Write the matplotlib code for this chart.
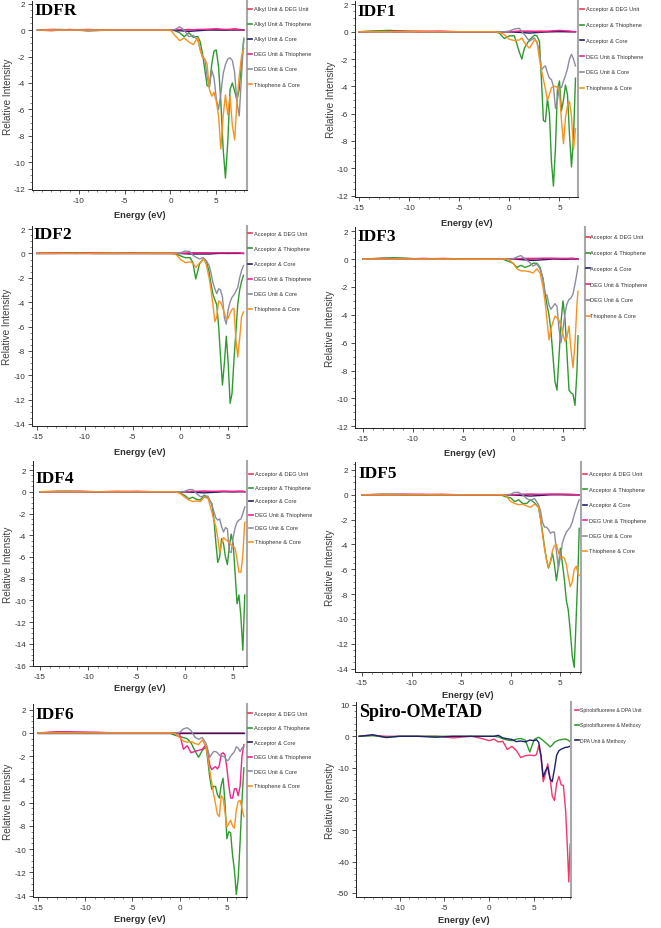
import matplotlib
matplotlib.use("Agg")
import matplotlib.pyplot as plt
from matplotlib.lines import Line2D
from matplotlib.ticker import AutoMinorLocator, MultipleLocator

plt.rcParams["font.family"] = ["Liberation Sans", "DejaVu Sans"]
plt.rcParams["axes.unicode_minus"] = False

W, H = 661, 929

# ── data (energy in eV, relative intensity) ─────────────────────────────
# IDFR
IDFR_E = [-14.5, -12, -9, -6, -3, -1, -0.5, 0, 0.5, 1.0, 1.5, 2.0, 2.5,
          2.75, 3.0, 3.25, 3.5, 3.75, 4.0, 4.25, 4.5, 4.75, 5.0, 5.25, 5.5,
          5.75, 6.0, 6.25, 6.5, 6.75, 7.0, 7.25, 7.5, 7.75, 8.0]
IDFR_GREEN = [0, 0.05, -0.05, 0, 0, 0, 0, 0, -0.05, -0.2, -0.5, -0.2, -0.55,
              -0.5, -0.5, -0.9, -1.8, -3.0, -4.2, -4.3, -2.6, -1.6, -1.5, -2.8, -5.5,
              -9.0, -11.2, -8.5, -4.5, -4.0, -4.6, -5.3, -4.5, -2.5, -0.7]
IDFR_GRAY = [0, 0, 0, 0, 0, 0, 0, 0, 0.05, 0.25, 0.0, -0.5, -0.4,
             -0.6, -0.8, -1.5, -2.0, -2.2, -3.5, -4.3, -3.0, -3.6, -5.2, -6.0, -4.8,
             -3.3, -2.6, -2.2, -2.1, -2.3, -3.2, -5.5, -6.5, -3.5, -0.6]
IDFR_ORANGE = [0, 0, 0, 0, 0, 0, 0, 0, -0.4, -0.8, -0.6, -0.9, -1.1,
               -0.8, -0.6, -1.5, -2.1, -2.2, -2.6, -4.5, -5.0, -4.7, -5.4, -6.5, -9.0,
               -6.5, -4.9, -6.4, -5.0, -7.2, -8.3, -5.5, -3.5, -2.0, -1.4]
IDFR_FE = [-14.5, -13, -11, -9, -7, -5, -3, -1, 0, 1, 2, 3, 4, 5, 6, 7, 8]
IDFR_RED = [0, -0.05, 0.05, -0.05, 0, 0, 0, 0, 0, 0, 0.05, 0, 0.05, 0.05, 0, 0.1, 0]
IDFR_NAVY = [0, 0, 0, 0, 0, 0, 0, 0, 0, -0.05, -0.1, -0.05, 0, 0, 0, 0, 0]
IDFR_MAG = [0, 0.05, 0, 0.05, 0, 0, 0, 0, 0, 0.05, 0, 0.05, 0.05, 0.1, 0.05, 0.05, 0]

# IDF1
IDF1_E = [-15, -12, -9, -6, -3, -1.5, -1, -0.5, 0, 0.5, 1.0, 1.25, 1.5, 2.0, 2.5,
          2.75, 3.0, 3.2, 3.4, 3.6, 3.8, 4.0, 4.2, 4.4, 4.6, 4.8, 5.0, 5.2, 5.4,
          5.6, 5.8, 6.0, 6.2, 6.4, 6.6]
IDF1_GREEN = [0, 0.1, 0, 0, 0, 0, -0.1, -0.5, -0.3, -0.3, -1.5, -2.0, -1.2, -0.6, -0.25,
              -0.3, -0.7, -3.5, -6.5, -6.6, -4.9, -6.0, -9.5, -11.3, -8.5, -4.2, -3.6, -5.8, -5.0,
              -3.9, -4.6, -7.5, -9.9, -7.8, -3.4]
IDF1_GRAY = [0, 0, 0, 0, 0, 0, 0, 0, 0.05, 0.2, 0.25, 0.0, -0.2, -0.7, -0.45,
             -0.8, -1.4, -2.8, -2.6, -2.5, -3.0, -3.4, -3.5, -4.0, -5.6, -5.0, -4.0, -4.1, -3.6,
             -3.2, -2.7, -2.0, -1.65, -2.0, -2.5]
IDF1_ORANGE = [0, 0, 0, 0, 0, 0, -0.05, -0.2, -0.55, -0.65, -0.6, -0.45, -0.8, -1.2, -0.6,
               -0.7, -2.0, -2.8, -3.5, -4.2, -5.0, -4.6, -4.1, -4.0, -4.0, -4.1, -4.4, -6.5, -8.2,
               -6.3, -5.4, -5.1, -6.2, -8.6, -7.1]
IDF1_FE = [-15, -13, -11, -9, -7, -5, -3, -1, 0, 1, 2, 3, 4, 5, 6, 6.6]
IDF1_RED = [0, 0.05, 0, 0.05, 0, 0, 0, 0, 0, 0, 0, 0.05, 0, 0.05, 0, 0]
IDF1_NAVY = [0, 0, 0, 0, 0, 0, 0, 0, 0, -0.05, -0.1, -0.05, 0, 0, 0, 0]
IDF1_MAG = [0, 0, 0.05, 0, 0.05, 0, 0, 0, 0, 0.05, 0.05, 0, 0.05, 0.1, 0.05, 0]

# IDF2
IDF2_E = [-15, -12, -9, -6, -3, -1, -0.5, 0, 0.5, 1.0, 1.3, 1.6, 2.0, 2.4, 2.7,
          3.0, 3.2, 3.4, 3.6, 3.8, 4.0, 4.2, 4.4, 4.6, 4.8, 5.0, 5.2, 5.4, 5.6,
          5.8, 6.0, 6.2, 6.4, 6.6]
IDF2_GREEN = [0, 0.05, 0, 0, 0, 0, -0.05, -0.2, -0.35, -0.35, -0.75, -2.1, -0.85, -0.45, -0.6,
              -1.5, -2.5, -3.35, -3.8, -4.2, -6.0, -8.5, -10.8, -9.0, -6.8, -9.0, -12.3, -11.5, -8.8,
              -6.5, -4.2, -3.0, -2.3, -1.8]
IDF2_GRAY = [0, 0, 0, 0, 0, 0, 0, 0.05, 0.2, 0.15, -0.15, -0.3, -0.45, -0.35, -0.6,
             -1.0, -1.6, -2.4, -2.9, -3.3, -2.9, -3.0, -3.6, -5.3, -5.8, -4.6, -4.0, -3.6, -3.4,
             -3.1, -2.8, -2.0, -1.4, -1.0]
IDF2_ORANGE = [0, 0, 0, 0, 0, 0, -0.05, -0.5, -0.75, -0.7, -0.8, -1.15, -0.8, -0.45, -0.9,
               -2.0, -3.0, -4.2, -5.6, -5.2, -3.9, -4.0, -4.4, -4.9, -5.4, -5.3, -4.9, -4.6, -4.5,
               -7.0, -8.5, -7.0, -5.2, -4.8]
IDF2_FE = [-15, -13, -11, -9, -7, -5, -3, -1, 0, 1, 2, 3, 4, 5, 6, 6.6]
IDF2_RED = [0, 0, 0.05, 0, 0, 0.05, 0, 0, 0, 0, 0.05, 0, 0.05, 0, 0.05, 0]
IDF2_NAVY = [0, 0, 0, 0, 0, 0, 0, 0, 0, -0.05, -0.05, -0.05, 0, 0, 0, 0]
IDF2_MAG = [0, 0.05, 0, 0.05, 0, 0, 0, 0, 0, 0.05, 0.05, 0.05, 0.05, 0.05, 0.05, 0]

# IDF3
IDF3_E = [-15, -12, -9, -6, -3, -1, -0.5, 0, 0.4, 0.8, 1.2, 1.6, 2.0, 2.4, 2.7,
          3.0, 3.2, 3.4, 3.6, 3.8, 4.0, 4.2, 4.4, 4.6, 4.8, 5.0, 5.2, 5.4, 5.6,
          5.8, 6.0, 6.2, 6.4, 6.5]
IDF3_GREEN = [0, 0.1, 0, 0, 0, -0.02, -0.15, -0.3, -0.6, -0.45, -0.6, -0.5, -0.3, -0.3, -0.6,
              -1.4, -2.4, -3.3, -4.0, -5.2, -7.0, -8.8, -9.4, -7.0, -4.5, -3.0, -4.3, -6.8, -9.4,
              -9.6, -9.7, -10.5, -8.0, -5.5]
IDF3_GRAY = [0, 0, 0, 0, 0, 0, 0, 0.02, 0.15, 0.25, 0.0, -0.2, -0.5, -0.35, -0.7,
             -1.4, -2.5, -2.6, -3.3, -3.6, -3.4, -3.2, -3.4, -5.0, -6.0, -5.0, -3.9, -3.2, -2.9,
             -2.8, -2.5, -1.8, -1.0, -0.5]
IDF3_ORANGE = [0, 0, 0, 0, 0, 0, 0, -0.3, -0.7, -0.85, -0.85, -0.9, -1.0, -0.7, -1.0,
               -2.0, -3.0, -4.4, -5.8, -5.0, -4.5, -4.1, -4.2, -4.4, -4.8, -5.4, -5.9, -5.6, -4.8,
               -6.5, -7.8, -6.0, -3.2, -2.3]
IDF3_FE = [-15, -13, -11, -9, -7, -5, -3, -1, 0, 1, 2, 3, 4, 5, 6, 6.5]
IDF3_RED = [0, 0, 0.05, 0, 0.05, 0, 0, 0, 0, 0, 0, 0.05, 0.05, 0, 0.05, 0]
IDF3_NAVY = [0, 0, 0, 0, 0, 0, 0, 0, 0, -0.05, -0.1, -0.05, 0, 0, 0, 0]
IDF3_MAG = [0, 0.05, 0, 0.05, 0, 0, 0, 0, 0, 0.05, 0.05, 0.05, 0.05, 0.05, 0.05, 0]

# IDF4
IDF4_E = [-15, -12, -9, -6, -3, -1, -0.5, 0, 0.4, 0.8, 1.2, 1.6, 2.0, 2.4, 2.8,
          3.0, 3.2, 3.4, 3.6, 3.8, 4.0, 4.2, 4.4, 4.6, 4.8, 5.0, 5.2, 5.4, 5.6,
          5.8, 6.0, 6.2]
IDF4_GREEN = [0, 0.05, 0, 0, 0, 0, -0.1, -0.35, -0.65, -0.5, -0.7, -0.75, -0.3, -0.6, -1.1,
              -2.5, -4.6, -6.5, -6.0, -4.3, -4.8, -6.0, -6.7, -5.0, -3.9, -4.8, -7.5, -10.3, -9.5,
              -11.5, -14.6, -9.5]
IDF4_GRAY = [0, 0, 0, 0, 0, 0, 0, 0.05, 0.2, 0.2, -0.15, -0.45, -0.4, -0.4, -1.25,
             -1.8, -2.4, -2.6, -2.5, -3.2, -3.7, -3.3, -3.4, -5.5, -5.6, -4.2, -3.3, -2.8, -2.6,
             -2.5, -2.0, -1.4]
IDF4_ORANGE = [0, 0, 0, 0, 0, 0, -0.15, -0.5, -0.75, -0.9, -0.85, -0.9, -0.5, -0.6, -1.9,
               -2.6, -3.2, -4.2, -5.6, -4.8, -4.2, -4.4, -4.5, -4.7, -4.9, -5.0, -5.2, -6.2, -7.4,
               -7.4, -5.8, -2.8]
IDF4_FE = [-15, -13, -11, -9, -7, -5, -3, -1, 0, 1, 2, 3, 4, 5, 6, 6.2]
IDF4_RED = [0, 0.05, 0, 0, 0.05, 0, 0, 0, 0, 0, 0.05, 0, 0.05, 0, 0.05, 0]
IDF4_NAVY = [0, 0, 0, 0, 0, 0, 0, 0, 0, -0.05, -0.1, -0.05, 0, 0, 0, 0]
IDF4_MAG = [0, 0, 0.05, 0, 0, 0.05, 0, 0, 0, 0.05, 0.05, 0.05, 0.05, 0.05, 0.05, 0]

# IDF5
IDF5_E = [-15, -12, -9, -6, -3, -1, -0.5, 0, 0.4, 0.8, 1.2, 1.6, 2.0, 2.4, 2.8,
          3.0, 3.2, 3.4, 3.6, 3.8, 4.0, 4.2, 4.4, 4.6, 4.8, 5.0, 5.2, 5.4, 5.6,
          5.8, 6.0, 6.2, 6.4, 6.6, 6.8, 6.9]
IDF5_GREEN = [0, 0.05, 0, 0, 0, -0.02, -0.15, -0.25, -0.55, -0.4, -0.7, -0.7, -0.4, -0.65, -1.0,
              -1.9, -3.0, -4.2, -5.2, -5.9, -5.4, -4.7, -5.6, -6.9, -5.8, -4.3, -5.5, -6.8, -8.5,
              -9.3, -11.0, -13.0, -13.9, -9.8, -5.5, -2.7]
IDF5_GRAY = [0, 0, 0, 0, 0, 0, 0, 0.05, 0.2, 0.2, 0.0, -0.3, -0.45, -0.3, -0.8,
             -1.3, -2.2, -2.6, -2.6, -2.8, -3.1, -3.0, -3.0, -4.5, -5.9, -5.0, -3.9, -3.4, -3.0,
             -2.8, -2.6, -2.2, -1.6, -1.1, -0.6, -0.4]
IDF5_ORANGE = [0, 0, 0, 0, 0, 0, -0.05, -0.55, -0.7, -0.8, -0.75, -0.9, -1.0, -0.75, -1.0,
               -2.0, -3.2, -4.3, -5.2, -5.8, -5.4, -4.5, -4.1, -4.0, -4.6, -5.1, -5.0, -5.1, -5.6,
               -6.6, -7.4, -7.0, -6.0, -5.75, -6.4, -6.5]
IDF5_FE = [-15, -13, -11, -9, -7, -5, -3, -1, 0, 1, 2, 3, 4, 5, 6, 6.9]
IDF5_RED = [0, 0.05, 0, 0, 0.05, 0, 0, 0, 0, 0, 0.05, 0, 0.05, 0.05, 0, 0]
IDF5_NAVY = [0, 0, 0, 0, 0, 0, 0, 0, 0, -0.05, -0.1, -0.05, 0, 0, 0, 0]
IDF5_MAG = [0, 0, 0.05, 0.05, 0, 0, 0, 0, 0, 0.05, 0.05, 0.05, 0.05, 0.05, 0.05, 0]

# IDF6
IDF6_E = [-15, -12, -9, -6, -3, -1, -0.5, 0, 0.4, 0.8, 1.2, 1.6, 2.0, 2.4, 2.8,
          3.0, 3.2, 3.4, 3.6, 3.8, 4.0, 4.2, 4.4, 4.6, 4.8, 5.0, 5.2, 5.4, 5.6,
          5.8, 6.0, 6.2, 6.4, 6.6, 6.8]
IDF6_GREEN = [0, 0.05, 0, 0, 0, -0.02, -0.2, -0.3, -0.4, -0.5, -0.85, -1.5, -2.1, -1.5, -1.2,
              -2.5, -3.9, -4.85, -4.6, -4.6, -5.3, -5.6, -4.5, -3.9, -6.0, -9.1, -8.5, -8.6, -10.5,
              -11.8, -13.9, -12.5, -9.4, -5.8, -3.0]
IDF6_GRAY = [0, 0, 0, 0, 0, 0, 0, 0.05, 0.35, 0.45, 0.2, -0.35, -0.55, -0.4, -0.9,
             -1.5, -2.1, -1.8, -1.6, -1.6, -1.7, -1.9, -2.0, -2.0, -2.1, -2.4, -2.3, -2.0, -1.8,
             -1.6, -1.2, -1.3, -1.6, -1.3, -1.2]
IDF6_MAG = [0, 0.1, 0.05, 0, 0, 0, 0, -0.1, -1.4, -1.1, -1.7, -1.6, -1.5, -1.4, -1.0,
            -1.9, -2.8, -3.15, -3.0, -2.9, -3.1, -2.8, -1.8, -1.7, -1.9, -3.0, -4.5, -5.6, -5.6,
            -4.8, -4.8, -5.4, -4.6, -2.0, -1.0]
IDF6_ORANGE = [0, 0, 0, 0, 0, 0, -0.05, -0.4, -0.7, -0.8, -0.75, -0.9, -1.0, -0.6, -1.2,
               -2.2, -3.3, -4.3, -5.3, -6.1, -7.0, -7.2, -5.4, -5.6, -6.8, -8.1, -7.8, -7.5, -8.0,
               -8.2, -6.6, -5.9, -5.8, -6.5, -7.2]
IDF6_FE = [-15, -13, -11, -9, -7, -5, -3, -1, 0, 1, 2, 3, 4, 5, 6, 6.8]
IDF6_RED = [0, 0.1, 0.05, 0.05, 0, 0, 0, 0, 0, 0, 0, 0, 0, 0, 0, 0]
IDF6_NAVY = [0, 0, 0, 0, 0, 0, 0, 0, 0, 0, 0, 0, 0, 0, 0, 0]

# Spiro-OMeTAD
SPIRO_E = [-14.5, -13, -11.5, -10, -8, -6, -4, -2, -1, -0.5, 0, 0.5, 1.0, 1.5, 2.0,
           2.5, 3.0, 3.5, 4.0, 4.5, 5.0, 5.25, 5.5, 5.75, 6.0, 6.25, 6.5, 6.75, 7.0,
           7.25, 7.5, 7.75, 8.0, 8.25, 8.5, 8.7, 8.85, 9.0]
SPIRO_RED = [0, 0.3, 0, 0, 0, 0, -0.5, 0, -0.6, -1.0, -1.4, -0.9, -1.8, -1.6, -4.2,
             -3.2, -4.5, -6.8, -6.2, -6.0, -6.2, -5.8, -3.0, -6.5, -14.5, -12.0, -8.8, -13.0, -19.0,
             -20.5, -15.0, -12.8, -15.5, -15.7, -24.0, -36.0, -46.5, -34.4]
SPIRO_GREEN = [0, 0.2, -0.3, 0, 0, 0, 0, 0, 0, 0, 0, 0, -0.2, -0.8, -1.2,
               -1.4, -0.9, -0.7, -1.2, -5.0, -1.0, -0.6, -0.3, -0.8, -1.4, -2.0, -2.6, -3.4, -2.8,
               -1.9, -1.5, -1.2, -1.1, -0.9, -0.9, -1.1, -1.4, -1.7]
SPIRO_NAVY = [0, 0.5, -0.4, 0, 0, -0.3, 0, 0, 0, 0, 0, 0, 0.3, -0.5, -0.8,
              -1.0, -1.7, -1.5, -1.8, -1.2, -1.4, -1.1, -2.0, -6.0, -13.0, -11.0, -9.8, -13.5, -14.5,
              -10.5, -6.0, -4.6, -4.1, -3.8, -3.5, -3.5, -3.3, -3.2]

LABELS_R = ["Alkyl Unit & DEG Unit", "Alkyl Unit & Thiophene", "Alkyl Unit & Core",
            "DEG Unit & Thiophene", "DEG Unit & Core", "Thiophene & Core"]
LABELS_A = ["Acceptor & DEG Unit", "Acceptor & Thiophene", "Acceptor & Core",
            "DEG Unit & Thiophene", "DEG Unit & Core", "Thiophene & Core"]
LABELS_S = ["Spirobifluorene & DPA Unit", "Spirobifluorene & Methoxy", "DPA Unit & Methoxy"]

C_RED = "#f4364f"
C_GREEN = "#2f9a2f"
C_NAVY = "#20206a"
C_MAG = "#f0228e"
C_GRAY = "#8c8ca0"
C_ORANGE = "#f8921e"
C_SPIRO = "#f5356a"
COLORS6 = [C_RED, C_GREEN, C_NAVY, C_MAG, C_GRAY, C_ORANGE]


def series6(fe, red, e, green, navy, mag, gray, orange, mag_e=None):
    # order follows the legend: red, green, navy, magenta, gray, orange
    return [(fe, red), (e, green), (fe, navy),
            (mag_e if mag_e is not None else fe, mag), (e, gray), (e, orange)]


# (title, box l r t b in px, xlim, ylim, xticks, yticks, xlabel y, ylabel x,
#  legend: dash x, text x, first y, step, title x/y, series, labels, colours)
PANELS = [
    ("IDFR", (32, 247, 2, 191), (-15.1, 8.35), (-12.1, 2.2), [-10, -5, 0, 5],
     range(2, -13, -2), 216, 8, (248, 254, 9.5, 15.1), (34, 3),
     series6(IDFR_FE, IDFR_RED, IDFR_E, IDFR_GREEN, IDFR_NAVY, IDFR_MAG, IDFR_GRAY, IDFR_ORANGE),
     LABELS_R, COLORS6),
    ("IDF1", (355, 578, 2, 198), (-15.4, 6.85), (-12.1, 2.25), [-15, -10, -5, 0, 5],
     range(2, -13, -2), 223, 331, (580, 586, 10, 15.7), (357, 4),
     series6(IDF1_FE, IDF1_RED, IDF1_E, IDF1_GREEN, IDF1_NAVY, IDF1_MAG, IDF1_GRAY, IDF1_ORANGE),
     LABELS_A, COLORS6),
    ("IDF2", (32, 247, 227, 426.7), (-15.55, 6.97), (-14.14, 2.25), [-15, -10, -5, 0, 5],
     range(2, -15, -2), 452.7, 7.5, (248, 254, 234.3, 15.1), (33, 227),
     series6(IDF2_FE, IDF2_RED, IDF2_E, IDF2_GREEN, IDF2_NAVY, IDF2_MAG, IDF2_GRAY, IDF2_ORANGE),
     LABELS_A, COLORS6),
    ("IDF3", (355, 585, 228, 429), (-15.8, 7.2), (-12.12, 2.3), [-15, -10, -5, 0, 5],
     range(2, -13, -2), 454, 330, (586, 590.5, 237.7, 15.8), (357, 229),
     series6(IDF3_FE, IDF3_RED, IDF3_E, IDF3_GREEN, IDF3_NAVY, IDF3_MAG, IDF3_GRAY, IDF3_ORANGE),
     LABELS_A, COLORS6),
    ("IDF4", (33.3, 246.7, 461.7, 667.3), (-15.7, 6.4), (-16.06, 2.86), [-15, -10, -5, 0, 5],
     range(2, -17, -2), 689, 8, (249, 255, 475, 13.5), (35, 471),
     series6(IDF4_FE, IDF4_RED, IDF4_E, IDF4_GREEN, IDF4_NAVY, IDF4_MAG, IDF4_GRAY, IDF4_ORANGE),
     LABELS_A, COLORS6),
    ("IDF5", (355, 580.7, 463.3, 673.3), (-15.7, 7.05), (-14.3, 2.62), [-15, -10, -5, 0, 5],
     range(2, -15, -2), 695, 330, (583, 589, 475, 15.4), (358, 466),
     series6(IDF5_FE, IDF5_RED, IDF5_E, IDF5_GREEN, IDF5_NAVY, IDF5_MAG, IDF5_GRAY, IDF5_ORANGE),
     LABELS_A, COLORS6),
    ("IDF6", (33.3, 246.7, 705, 898.3), (-15.5, 7.1), (-14.14, 2.49), [-15, -10, -5, 0, 5],
     range(2, -15, -2), 920, 8, (248, 254, 714.3, 14.5), (35, 707),
     series6(IDF6_FE, IDF6_RED, IDF6_E, IDF6_GREEN, IDF6_NAVY, IDF6_MAG, IDF6_GRAY, IDF6_ORANGE,
             mag_e=IDF6_E),
     LABELS_A, COLORS6),
    ("Spiro-OMeTAD", (356, 570.7, 703.3, 898.3), (-14.85, 9.06), (-51.4, 10.85), [-10, -5, 0, 5],
     range(10, -51, -10), 920.7, 330, (575, 580.5, 710.7, 15.3), (359, 704),
     [(SPIRO_E, SPIRO_RED), (SPIRO_E, SPIRO_GREEN), (SPIRO_E, SPIRO_NAVY)],
     LABELS_S, [C_SPIRO, C_GREEN, C_NAVY]),
]

fig = plt.figure(figsize=(W / 100, H / 100), dpi=100)
fig.patch.set_facecolor("white")

for (title, box, xlim, ylim, xticks, yticks, xl_y, yl_x, leg, tpos,
     series, labels, colors) in PANELS:
    l, r, t, b = box
    ax = fig.add_axes([l / W, 1 - b / H, (r - l) / W, (b - t) / H])
    for (xs, ys), c in zip(series, colors):
        ax.plot(xs, ys, color=c, lw=1.0, solid_joinstyle="round")

    ax.set_xlim(*xlim)
    ax.set_ylim(*ylim)
    ax.set_xticks(xticks)
    ax.set_yticks(list(yticks))
    ax.xaxis.set_minor_locator(MultipleLocator(1))
    ax.yaxis.set_minor_locator(AutoMinorLocator(5 if title.startswith("Spiro") else 4))
    ax.tick_params(which="major", length=3, width=0.6, color="#333333",
                   labelsize=5.9, labelcolor="#333333", pad=2)
    ax.tick_params(which="minor", length=1.6, width=0.5, color="#555555")
    for s in ("left", "bottom"):
        ax.spines[s].set_color("#222222")
        ax.spines[s].set_linewidth(0.7)
    ax.spines["top"].set_visible(False)
    ax.spines["right"].set_color("#a8a8a8")
    ax.spines["right"].set_linewidth(1.5)
    ax.patch.set_alpha(0)

    # axis titles placed in figure pixels
    fig.text((l + r) / 2 / W, 1 - xl_y / H, "Energy (eV)", ha="center", va="center",
             fontsize=6.7, fontweight="bold", color="#303030")
    fig.text(yl_x / W, 1 - (t + b) / 2 / H, "Relative Intensity", ha="center", va="center",
             rotation=90, fontsize=7.2, color="#404040")

    # panel title
    fig.text(tpos[0] / W, 1 - tpos[1] / H, title, ha="left", va="top",
             family=["Liberation Serif", "DejaVu Serif"], fontweight="bold",
             fontsize=13 if title.startswith("Spiro") else 12.5, color="black")

    # legend to the right of the plot
    dx, tx, y0, dy = leg
    fs = 3.7 if title.startswith("Spiro") else 4.1
    for i, (lab, c) in enumerate(zip(labels, colors)):
        yy = 1 - (y0 + i * dy) / H
        fig.add_artist(Line2D([dx / W, (dx + 3.5) / W], [yy, yy], color=c, lw=1.2))
        fig.text(tx / W, yy, lab, ha="left", va="center", fontsize=fs, color="#333333")

fig.savefig("out.png", dpi=100)
